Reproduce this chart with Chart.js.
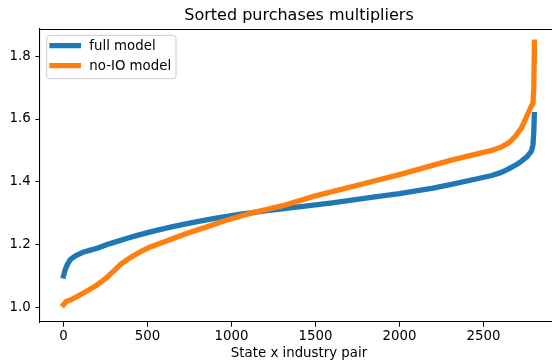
<!DOCTYPE html>
<html>
<head>
<meta charset="utf-8">
<script src="https://cdn.jsdelivr.net/npm/chart.js@4.4.1/dist/chart.umd.min.js"></script>
<style>
  html, body { margin: 0; padding: 0; background: #fff; overflow: hidden; }
  #wrap { width: 552px; height: 362px; overflow: hidden; position: relative; }
  canvas { display: block; }
</style>
</head>
<body>
<div id="wrap"><canvas id="c" width="560" height="362" style="width:560px;height:362px"></canvas></div>
<script>
// Sorted multipliers, sampled along the rank of each state x industry pair
const fullRank = [0, 10, 22, 40, 60, 82, 120, 160, 200, 260, 320, 380, 440, 500, 560, 650, 758, 900, 1056, 1116, 1200, 1400, 1600, 1832, 2000, 2200, 2309, 2450, 2550, 2607, 2650, 2700, 2727, 2760, 2786, 2795, 2800, 2803];
const fullValues = [1.100, 1.120, 1.135, 1.152, 1.160, 1.167, 1.176, 1.182, 1.188, 1.200, 1.210, 1.220, 1.229, 1.238, 1.246, 1.257, 1.269, 1.283, 1.297, 1.301, 1.307, 1.320, 1.333, 1.350, 1.362, 1.380, 1.392, 1.408, 1.420, 1.430, 1.441, 1.456, 1.466, 1.480, 1.498, 1.518, 1.560, 1.614];

const noIORank = [0, 15, 42, 100, 150, 200, 250, 300, 340, 400, 459, 520, 597, 656, 750, 859, 950, 1056, 1116, 1300, 1500, 1832, 2000, 2309, 2548, 2607, 2650, 2690, 2727, 2767, 2786, 2795, 2800, 2804];
const noIOValues = [1.008, 1.018, 1.023, 1.040, 1.055, 1.071, 1.091, 1.116, 1.137, 1.159, 1.177, 1.193, 1.208, 1.220, 1.238, 1.257, 1.274, 1.291, 1.300, 1.323, 1.355, 1.400, 1.423, 1.469, 1.500, 1.511, 1.524, 1.545, 1.572, 1.620, 1.642, 1.650, 1.700, 1.845];

const seriesLabels = ['full model', 'no-IO model'];
const seriesColors = ['#1f77b4', '#ff7f0e'];

const xTicks = [0, 500, 1000, 1500, 2000, 2500];
const yTicks = [1.0, 1.2, 1.4, 1.6, 1.8];

const chartTitle = 'Sorted purchases multipliers';
const xTitle = 'State x industry pair';

const FONT = 'DejaVu Sans';
const LW = 5.3;

function pts(xs, ys) { return xs.map((x, i) => ({ x: x, y: ys[i] })); }

// top spine plus an in-axes legend in the upper-left corner
const frameAndLegend = {
  id: 'frameAndLegend',
  afterDatasetsDraw(chart) {
    const { ctx, chartArea } = chart;
    ctx.save();
    ctx.strokeStyle = '#000';
    ctx.lineWidth = 1.07;
    ctx.beginPath();
    ctx.moveTo(chartArea.left, chartArea.top + 0.5);
    ctx.lineTo(chartArea.right, chartArea.top + 0.5);
    ctx.stroke();

    const bx = 46.7, by = 35.3, bw = 129.3, bh = 43.4, r = 3;
    ctx.beginPath();
    ctx.moveTo(bx + r, by);
    ctx.lineTo(bx + bw - r, by);
    ctx.quadraticCurveTo(bx + bw, by, bx + bw, by + r);
    ctx.lineTo(bx + bw, by + bh - r);
    ctx.quadraticCurveTo(bx + bw, by + bh, bx + bw - r, by + bh);
    ctx.lineTo(bx + r, by + bh);
    ctx.quadraticCurveTo(bx, by + bh, bx, by + bh - r);
    ctx.lineTo(bx, by + r);
    ctx.quadraticCurveTo(bx, by, bx + r, by);
    ctx.closePath();
    ctx.fillStyle = 'rgba(255,255,255,0.8)';
    ctx.fill();
    ctx.strokeStyle = '#cccccc';
    ctx.lineWidth = 1;
    ctx.stroke();

    const rows = [45.7, 65.7];
    chart.data.datasets.forEach((ds, i) => {
      const y = rows[i];
      ctx.strokeStyle = ds.borderColor;
      ctx.lineWidth = LW;
      ctx.lineCap = 'square';
      ctx.beginPath();
      ctx.moveTo(52, y);
      ctx.lineTo(78.4, y);
      ctx.stroke();
      ctx.fillStyle = '#000';
      ctx.font = '13.33px "' + FONT + '"';
      ctx.textBaseline = 'middle';
      ctx.textAlign = 'left';
      ctx.fillText(ds.label, 89.3, y + 0.5);
    });
    ctx.restore();
  }
};

new Chart(document.getElementById('c'), {
  type: 'line',
  data: {
    datasets: [
      {
        label: seriesLabels[0],
        data: pts(fullRank, fullValues),
        borderColor: seriesColors[0],
        backgroundColor: seriesColors[0],
        borderWidth: LW,
        borderCapStyle: 'square',
        borderJoinStyle: 'round',
        pointRadius: 0,
        tension: 0,
        fill: false,
        order: 1
      },
      {
        label: seriesLabels[1],
        data: pts(noIORank, noIOValues),
        borderColor: seriesColors[1],
        backgroundColor: seriesColors[1],
        borderWidth: LW,
        borderCapStyle: 'square',
        borderJoinStyle: 'round',
        pointRadius: 0,
        tension: 0,
        fill: false,
        order: 0
      }
    ]
  },
  options: {
    responsive: false,
    devicePixelRatio: 1,
    animation: false,
    layout: { padding: { left: 0, right: 2, top: 0, bottom: 0 } },
    plugins: {
      legend: { display: false },
      tooltip: { enabled: false },
      title: {
        display: true,
        text: chartTitle,
        fullSize: false,
        color: '#000',
        font: { family: FONT, size: 16, weight: 'normal' },
        padding: { top: 6, bottom: 3.8 }
      }
    },
    scales: {
      x: {
        type: 'linear',
        min: -140,
        max: 2944,
        afterBuildTicks: (s) => { s.ticks = xTicks.map(v => ({ value: v })); },
        afterFit: (s) => { s.height = 40; },
        grid: { drawOnChartArea: false, color: '#000', tickLength: 4.67, tickWidth: 1.07 },
        border: { display: true, color: '#000', width: 1.07 },
        ticks: {
          color: '#000',
          font: { family: FONT, size: 13.33 },
          padding: 2,
          maxRotation: 0,
          callback: (v) => String(v)
        },
        title: {
          display: true,
          text: xTitle,
          color: '#000',
          font: { family: FONT, size: 13.33 },
          padding: { top: 0, bottom: 0 }
        }
      },
      y: {
        type: 'linear',
        min: 0.953,
        max: 1.887,
        afterBuildTicks: (s) => { s.ticks = yTicks.map(v => ({ value: v })); },
        afterFit: (s) => { s.width = 40; },
        grid: { drawOnChartArea: false, color: '#000', tickLength: 4.67, tickWidth: 1.07 },
        border: { display: true, color: '#000', width: 1.07 },
        ticks: {
          color: '#000',
          font: { family: FONT, size: 13.33 },
          padding: 4.67,
          callback: (v) => Number(v).toFixed(1)
        }
      }
    }
  },
  plugins: [frameAndLegend]
});
</script>
</body>
</html>
